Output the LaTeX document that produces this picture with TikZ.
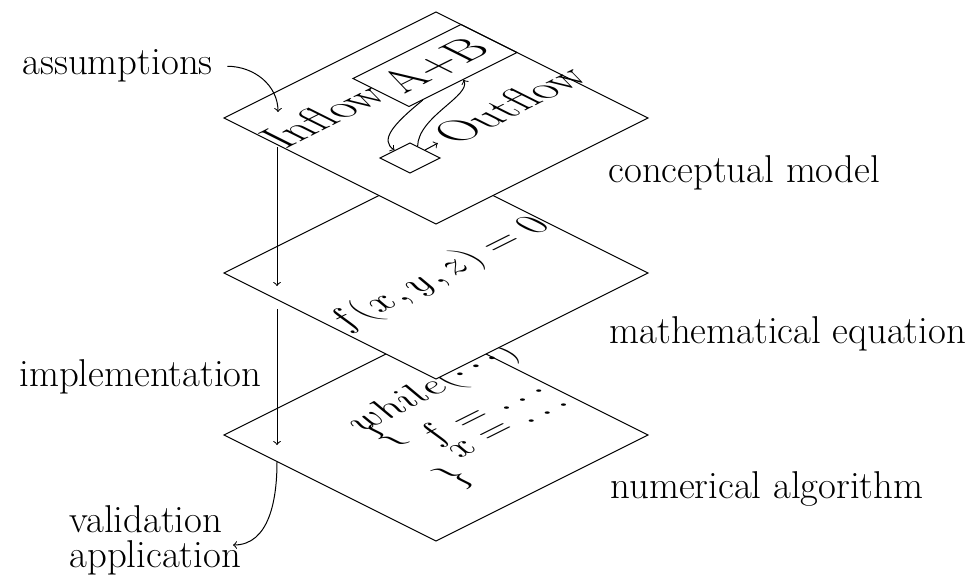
\documentclass[tikz,border=0pt]{standalone}
\usepackage{fix-cm}
\usetikzlibrary{calc}
\begin{document}
\begin{tikzpicture}[x=0.5pt,y=0.5pt,line width=0.5pt,
  plane/.style={draw=black,fill=white},
  lbl/.style={font=\fontsize{19.4}{17.5}\selectfont,inner sep=0pt},
  ptext/.style={transform shape,font=\fontsize{21.5}{21.5}\selectfont,inner sep=0pt},
  ctext/.style={transform shape,font=\fontsize{18.5}{13}\selectfont,inner sep=0pt,anchor=base west},
  arr/.style={->}
]
\useasboundingbox (0,0) rectangle (968,585);
% bottom plane: numerical algorithm
\begin{scope}[shift={(436,150)},yslant=0.5,xslant=-1]
  \path[plane] (-106,-106) -- (106,-106) -- (106,106) -- (-106,106) -- cycle;
  \node[ctext] (l1) at (-35,39) {$while(\cdots)$};
  \node[ctext] (l2) at (-36,15.25) {$\{$};
  \node[ctext] (l3) at (-12,-9.75) {$f=\ldots$};
  \node[ctext] (l4) at (-11.5,-35.25) {$x=\ldots$};
  \node[ctext] (l5) at (-42,-60.75) {$\}$};
\end{scope}
% middle plane: mathematical equation
\begin{scope}[shift={(436,312)},yslant=0.5,xslant=-1]
  \path[plane] (-106,-106) -- (106,-106) -- (106,106) -- (-106,106) -- cycle;
  \node[ptext,font=\fontsize{19}{19}\selectfont] (eq) at (0,-3) {$f(x,y,z)=0$};
\end{scope}
% top plane: conceptual model
\begin{scope}[shift={(436,467)},yslant=0.5,xslant=-1]
  \path[plane] (-106,-106) -- (106,-106) -- (106,106) -- (-106,106) -- cycle;
  \node[ptext,draw,minimum width=54pt,minimum height=28pt] (ab) at (52,53) {A+B};
  \node[ptext,anchor=base west] (inflow) at (-107,44) {Inflow};
  \node[ptext,draw,minimum width=15pt,minimum height=15pt] (small) at (-53,-27) {};
  \node[ptext,anchor=base west,font=\fontsize{21}{21}\selectfont] (outflow) at (-17,-38) {Outflow};
  \draw[arr,shorten >=4pt] (small) -- (outflow);
  \draw[arr] (ab.215) .. controls +(-42,-10) and +(3,17) .. (small.north);
  \draw[arr] (small.27) .. controls +(30,29.5) and +(-12,-20) .. (ab.south);
\end{scope}
% labels
\node[lbl,anchor=base west] (cmod) at (608,403) {conceptual model};
\node[lbl,anchor=base west] (meq) at (609,242) {mathematical equation};
\node[lbl,anchor=base west] (nalg) at (610,87) {numerical algorithm};
\node[lbl,anchor=base west] (assum) at (22,510) {assumptions};
\node[lbl,align=left,anchor=north west] (valid) at (69,79.5) {validation\\application};
\coordinate (a1) at (278,473);
\coordinate (v0) at (277,438);
\coordinate (v1) at (277,299);
\coordinate (v2) at (277,276);
\coordinate (v3) at (277,140);
\coordinate (v4) at (277,123);
\coordinate (v5) at (233,40);
\draw[arr] ([xshift=7pt]assum.east) to[out=0,in=90] (a1);
\draw[arr] (v0) -- (v1);
\draw[arr] (v2) -- node[lbl,anchor=east,xshift=-7.5pt] (impl) {implementation} (v3);
\draw[arr] (v4) to[out=-90,in=0] (v5);
\end{tikzpicture}
\end{document}
